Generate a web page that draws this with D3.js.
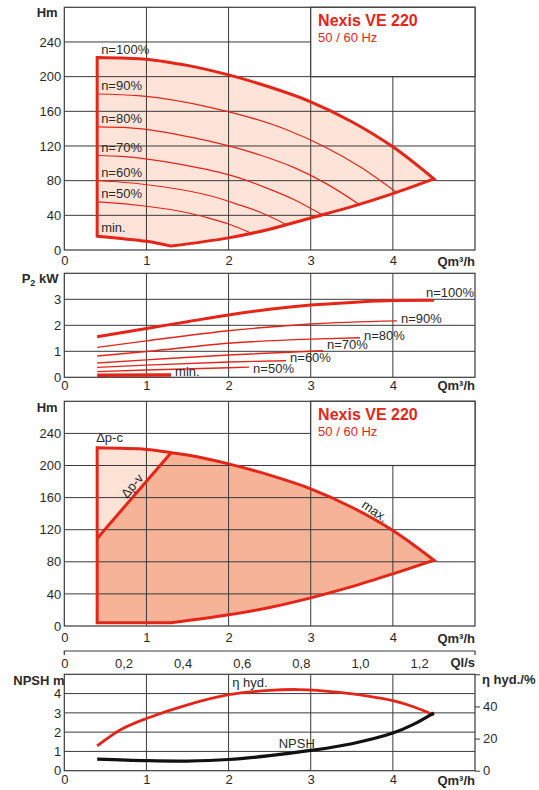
<!DOCTYPE html>
<html>
<head>
<script src="https://d3js.org/d3.v7.min.js"></script>
<style>
  body { margin: 0; background: #fff; }
</style>
</head>
<body>
<script>
// ---- values ----
const qTicks = [0, 1, 2, 3, 4];
const hTicks = [0, 40, 80, 120, 160, 200, 240];
const pTicks = [0, 1, 2, 3];
const npshTicks = [0, 1, 2, 3, 4];
const etaTicks = [0, 20, 40, 60];
const qlsTicks = [0, 0.2, 0.4, 0.6, 0.8, 1.0, 1.2];

// H-Q, n=100% (max)
const qMax = [0.4, 1.0, 1.3, 1.5, 2.0, 2.5, 3.0, 3.5, 4.0, 4.5];
const hMax = [222, 220, 216, 213, 202, 188, 171, 148, 119, 82];
// lower limit of the field (top chart)
const qLow = [1.3, 2.0, 2.5, 3.0, 3.5, 4.0, 4.5];
const hLow = [4.5, 14, 24, 37, 50, 65, 82];
const qMinCurve = [0.4, 1.0, 1.3];
const hMinCurve = [16, 10, 4.5];
// reduced speeds
const speedNames = ['n=90%', 'n=80%', 'n=70%', 'n=60%', 'n=50%'];
const speedQ = [
  [0.4, 0.9, 1.8, 2.7, 3.15, 3.6, 4.05],
  [0.4, 0.8, 1.6, 2.4, 2.8, 3.2, 3.6],
  [0.4, 0.7, 1.4, 2.1, 2.45, 2.8, 3.15],
  [0.4, 0.6, 1.2, 1.8, 2.1, 2.4, 2.7],
  [0.4, 0.5, 1.0, 1.5, 1.75, 2.0, 2.25]
];
const speedH = [
  [180, 178, 164, 139, 120, 96, 66],
  [142, 141, 129, 109, 95, 76, 52],
  [109, 108, 99, 84, 72, 58, 40],
  [80, 79, 73, 62, 53, 43, 29.5],
  [55.5, 55, 50.5, 43, 37, 30, 20.5]
];

// P2 power curves
const powerNames = ['n=100%', 'n=90%', 'n=80%', 'n=70%', 'n=60%', 'n=50%', 'min.'];
const powerQ = [
  [0.4, 1, 1.5, 2, 2.5, 3, 3.5, 4, 4.5],
  [0.4, 1, 2, 3, 4.05],
  [0.4, 1, 2, 3, 3.6],
  [0.4, 1, 2, 3.15],
  [0.4, 1, 2, 2.7],
  [0.4, 1, 2, 2.25],
  [0.4, 1.3]
];
const powerP = [
  [1.56, 1.88, 2.14, 2.40, 2.62, 2.78, 2.88, 2.95, 2.96],
  [1.15, 1.40, 1.79, 2.05, 2.17],
  [0.82, 0.99, 1.31, 1.47, 1.52],
  [0.55, 0.67, 0.86, 1.02],
  [0.38, 0.47, 0.59, 0.64],
  [0.22, 0.28, 0.37, 0.39],
  [0.08, 0.09]
];

// third chart: regulation field
const qLow3 = [0.4, 1.3, 2.0, 2.5, 3.0, 3.5, 4.0, 4.5];
const hLow3 = [4, 4, 14, 23, 35, 49, 65, 82];
const qDpv = [0.4, 1.3];
const hDpv = [109, 216];

// efficiency and NPSH
const qEta = [0.4, 0.7, 1.0, 1.5, 2.0, 2.5, 2.85, 3.35, 3.7, 4.0, 4.25, 4.5];
const eta = [15.4, 25.9, 32.5, 41, 47.3, 50, 50.5, 48.8, 46.4, 43.6, 39.8, 34.7];
const qNpsh = [0.4, 1.0, 1.5, 2.0, 2.5, 3.0, 3.5, 4.0, 4.25, 4.5];
const npsh = [0.6, 0.52, 0.5, 0.58, 0.78, 1.05, 1.4, 1.95, 2.4, 3.0];

// ---- drawing ----
const FONT = 'Arial, "Liberation Sans", Helvetica, sans-serif';
const RED = '#e42518';
const GRID = '#3a3a3a';
const TXT = '#2a2a2a';

const svg = d3.select('body').append('svg').attr('width', 539).attr('height', 790)
  .style('font-family', FONT);

const x = d3.scaleLinear().domain([0, 5]).range([64.3, 475]);
const xls = d3.scaleLinear().domain([0, 5 / 3.6]).range([64.3, 475]);

const pts = (qs, vs) => qs.map((q, i) => [q, vs[i]]);

function panel(y, yTicks, yGrid, xPad) {
  const [yb, yt] = y.range();
  const g = svg.append('g');
  const layers = {
    fill: g.append('g'),
    grid: g.append('g'),
    box: g.append('g'),
    lines: g.append('g'),
    text: g.append('g')
  };
  layers.grid.selectAll('.v').data(qTicks.slice(1)).join('line')
    .attr('x1', d => x(d)).attr('x2', d => x(d)).attr('y1', yb).attr('y2', yt)
    .attr('stroke', GRID).attr('stroke-width', 1);
  layers.grid.selectAll('.h').data(yGrid).join('line')
    .attr('x1', x(0)).attr('x2', x(5)).attr('y1', d => y(d)).attr('y2', d => y(d))
    .attr('stroke', GRID).attr('stroke-width', 1);
  layers.grid.append('rect')
    .attr('x', x(0)).attr('y', yt).attr('width', x(5) - x(0)).attr('height', yb - yt)
    .attr('fill', 'none').attr('stroke', GRID).attr('stroke-width', 1.2);

  g.append('g').attr('transform', `translate(${x(0)},0)`)
    .call(d3.axisLeft(y).tickValues(yTicks).tickSize(0).tickPadding(3).tickFormat(d => d))
    .call(a => a.select('.domain').remove())
    .attr('font-size', 13).attr('font-family', FONT).attr('color', TXT);
  g.append('g').attr('transform', `translate(0,${yb})`)
    .call(d3.axisBottom(x).tickValues(qTicks).tickSize(0).tickPadding(xPad).tickFormat(d => d))
    .call(a => a.select('.domain').remove())
    .attr('font-size', 13).attr('font-family', FONT).attr('color', TXT);
  g.append('text').attr('x', x(5)).attr('y', yb + xPad + 9.6)
    .attr('text-anchor', 'end').attr('font-size', 13).attr('font-weight', 'bold')
    .attr('fill', TXT).text('Qm³/h');
  return layers;
}

function titleBox(L, y) {
  L.box.append('rect').attr('x', x(3)).attr('y', y(280))
    .attr('width', x(5) - x(3)).attr('height', y(200) - y(280))
    .attr('fill', '#fff').attr('stroke', GRID).attr('stroke-width', 1.2);
  L.box.append('text').attr('x', x(3) + 7.4).attr('y', y(280) + 19)
    .attr('font-size', 16).attr('font-weight', 'bold').attr('fill', RED).text('Nexis VE 220');
  L.box.append('text').attr('x', x(3) + 7.4).attr('y', y(280) + 35)
    .attr('font-size', 13).attr('fill', RED).text('50 / 60 Hz');
}

const curve = d3.curveCatmullRom.alpha(0.5);
const smooth = d3.curveMonotoneX;

// ===== chart 1 : H-Q =====
const y1 = d3.scaleLinear().domain([0, 280]).range([250, 7.3]);
const L1 = panel(y1, hTicks, hTicks.slice(1), 6);
const line1 = d3.line().x(d => x(d[0])).y(d => y1(d[1])).curve(curve);
svg.append('text').attr('x', 36.7).attr('y', 17.3).attr('font-size', 13)
  .attr('font-weight', 'bold').attr('fill', TXT).text('Hm');

const field1 = line1(pts(qMax, hMax))
  + line1(pts(qLow, hLow).reverse()).replace('M', 'L')
  + line1(pts(qMinCurve, hMinCurve).reverse()).replace('M', 'L') + 'Z';
L1.fill.append('path').attr('d', field1).attr('fill', '#fde3d8');
titleBox(L1, y1);

const speedLine = d3.line().x(d => x(d[0])).y(d => y1(d[1])).curve(smooth);
speedQ.forEach((qs, i) => {
  L1.lines.append('path').attr('d', speedLine(pts(qs, speedH[i])))
    .attr('fill', 'none').attr('stroke', RED).attr('stroke-width', 1.2);
});
L1.lines.append('path').attr('d', field1).attr('fill', 'none')
  .attr('stroke', RED).attr('stroke-width', 3).attr('stroke-linejoin', 'miter');

const labels1 = [['n=100%', hMax[0]]]
  .concat(speedNames.map((n, i) => [n, speedH[i][0]]))
  .concat([['min.', hMinCurve[0]]]);
L1.text.selectAll('text').data(labels1).join('text')
  .attr('x', x(0.4) + 4).attr('y', d => y1(d[1]) - 4)
  .attr('font-size', 13).attr('fill', TXT).text(d => d[0]);

// ===== chart 2 : P2 =====
const y2 = d3.scaleLinear().domain([0, 4]).range([377.3, 273.3]);
const L2 = panel(y2, pTicks, pTicks.slice(1), 3.5);
const line2 = d3.line().x(d => x(d[0])).y(d => y2(d[1])).curve(smooth);
const pt = svg.append('text').attr('x', 21.7).attr('y', 282.7).attr('font-size', 13)
  .attr('font-weight', 'bold').attr('fill', TXT);
pt.append('tspan').text('P');
pt.append('tspan').attr('font-size', 9).attr('dy', 3).text('2');
pt.append('tspan').attr('dy', -3).text(' kW');

const powerWidth = [3, 1.4, 1.4, 1.4, 1.4, 1.4, 3.5];
const powerDx = [-8, 4, 4, 4, 4, 4, 4];
const powerDy = [-3, 2.5, 2, -1.5, 1.5, 5.5, 1];
powerQ.forEach((qs, i) => {
  const d = pts(qs, powerP[i]);
  L2.lines.append('path').attr('d', line2(d))
    .attr('fill', 'none').attr('stroke', RED).attr('stroke-width', powerWidth[i]);
  const end = d[d.length - 1];
  L2.text.append('text').attr('x', x(end[0]) + powerDx[i]).attr('y', y2(end[1]) + powerDy[i])
    .attr('font-size', 13).attr('fill', TXT).text(powerNames[i]);
});

// ===== chart 3 : regulation =====
const y3 = d3.scaleLinear().domain([0, 280]).range([626, 401.3]);
const L3 = panel(y3, hTicks, hTicks.slice(1), 7);
const line3 = d3.line().x(d => x(d[0])).y(d => y3(d[1])).curve(curve);
svg.append('text').attr('x', 36.7).attr('y', 412.3).attr('font-size', 13)
  .attr('font-weight', 'bold').attr('fill', TXT).text('Hm');

const top3 = pts(qMax, hMax);
const low3 = pts(qLow3, hLow3);
const outer3 = line3(top3) + line3(low3.slice(1).reverse()).replace('M', 'L')
  + `L${x(qLow3[0])},${y3(hLow3[0])}Z`;
L3.fill.append('path').attr('d', outer3).attr('fill', '#fde2d6');
const iv = qMax.indexOf(qDpv[1]);
const inner3 = `M${x(qLow3[0])},${y3(hLow3[0])}L${x(qDpv[0])},${y3(hDpv[0])}`
  + line3(top3.slice(iv)).replace('M', 'L')
  + line3(low3.slice(1).reverse()).replace('M', 'L') + 'Z';
L3.fill.append('path').attr('d', inner3).attr('fill', '#f6b398');
titleBox(L3, y3);

L3.lines.append('path').attr('d', outer3).attr('fill', 'none')
  .attr('stroke', RED).attr('stroke-width', 3);
L3.lines.append('path').attr('d', d3.line().x(d => x(d[0])).y(d => y3(d[1]))(pts(qDpv, hDpv)))
  .attr('fill', 'none').attr('stroke', RED).attr('stroke-width', 3);

L3.text.append('text').attr('x', x(0.4) - 1).attr('y', y3(hMax[0]) - 5.5)
  .attr('font-size', 13).attr('fill', TXT).text('Δp-c');
L3.text.append('text').attr('transform', `translate(${x(0.824)},${y3(174.8)}) rotate(-50)`)
  .attr('text-anchor', 'middle').attr('dy', '0.35em')
  .attr('font-size', 13).attr('fill', TXT).text('Δp-v');
L3.text.append('text').attr('transform', `translate(${x(3.78)},${y3(143.3)}) rotate(35)`)
  .attr('text-anchor', 'middle').attr('dy', '0.35em')
  .attr('font-size', 13).attr('fill', TXT).text('max.');

// ===== Ql/s scale =====
const qls = svg.append('g').attr('transform', 'translate(0,651)')
  .call(d3.axisBottom(xls).tickValues(qlsTicks).tickSizeInner(0).tickSizeOuter(4).tickPadding(7.5)
    .tickFormat(d => d === 0 ? '0' : d3.format('.1f')(d).replace('.', ',')))
  .attr('font-size', 13).attr('font-family', FONT).attr('color', TXT);
qls.select('.domain').attr('stroke', GRID).attr('stroke-width', 1.2)
  .attr('d', `M${x(0)},4V0H${x(5)}V4`);
svg.append('text').attr('x', x(5)).attr('y', 667.3).attr('text-anchor', 'end')
  .attr('font-size', 13).attr('font-weight', 'bold').attr('fill', TXT).text('Ql/s');

// ===== chart 4 : NPSH + efficiency =====
const y4 = d3.scaleLinear().domain([0, 5]).range([770.7, 674.3]);
const yEta = d3.scaleLinear().domain([0, 60]).range([770.7, 674.3]);
const L4 = panel(y4, npshTicks, npshTicks.slice(1), 4.5);
svg.append('text').attr('x', 13.3).attr('y', 684.5).attr('font-size', 13)
  .attr('font-weight', 'bold').attr('fill', TXT).text('NPSH m');

const er = svg.append('g').attr('transform', `translate(${x(5)},0)`)
  .call(d3.axisRight(yEta).tickValues(etaTicks).tickSize(5).tickPadding(3)
    .tickFormat(d => d === 60 ? '' : d))
  .attr('font-size', 13).attr('font-family', FONT).attr('color', TXT);
er.select('.domain').remove();
er.selectAll('line').attr('stroke', GRID);
svg.append('text').attr('x', 482).attr('y', 684.3).attr('font-size', 13)
  .attr('font-weight', 'bold').attr('fill', TXT).text('η hyd./%');

L4.lines.append('path')
  .attr('d', d3.line().x(d => x(d[0])).y(d => yEta(d[1])).curve(curve)(pts(qEta, eta)))
  .attr('fill', 'none').attr('stroke', RED).attr('stroke-width', 2.8);
L4.lines.append('path')
  .attr('d', d3.line().x(d => x(d[0])).y(d => y4(d[1])).curve(curve)(pts(qNpsh, npsh)))
  .attr('fill', 'none').attr('stroke', '#111').attr('stroke-width', 3.2);
L4.text.append('text').attr('x', x(2.045)).attr('y', y4(4.34))
  .attr('font-size', 13).attr('fill', TXT).text('η hyd.');
L4.text.append('text').attr('x', x(2.61)).attr('y', y4(1.16))
  .attr('font-size', 13).attr('fill', TXT).text('NPSH');
</script>
</body>
</html>
